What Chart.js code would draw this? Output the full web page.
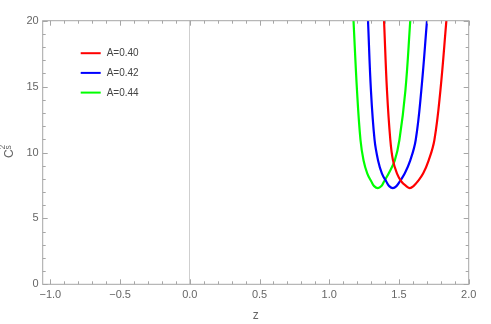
<!DOCTYPE html>
<html>
<head>
<meta charset="utf-8">
<script src="https://cdn.jsdelivr.net/npm/chart.js@4"></script>
<style>
  body { margin: 0; background: #fff; }
  canvas { display: block; }
</style>
</head>
<body>
<canvas id="chart" width="491" height="324"></canvas>
<script>
// values (z, C_s^2)
var cs2 = [20, 14.7, 10.95, 9.4, 8.4, 7.8, 7.45, 7.3, 7.45, 7.8, 8.4, 9.4, 10.95, 14.7, 20];
var zRed = [1.393, 1.414, 1.438, 1.457, 1.486, 1.517, 1.552, 1.578, 1.604, 1.634, 1.673, 1.713, 1.754, 1.797, 1.840];
var zBlue = [1.278, 1.299, 1.325, 1.350, 1.378, 1.409, 1.430, 1.456, 1.482, 1.505, 1.541, 1.581, 1.620, 1.660, 1.701];
var zGreen = [1.174, 1.199, 1.224, 1.246, 1.273, 1.302, 1.322, 1.348, 1.374, 1.393, 1.426, 1.470, 1.503, 1.546, 1.581];
var labels = ['A=0.40', 'A=0.42', 'A=0.44'];
var colors = ['#ff0000', '#0000ff', '#00ff00'];

var xMajor = [-1, -0.5, 0, 0.5, 1, 1.5, 2];
var yMajor = [0, 5, 10, 15, 20];
var xMinorStep = 0.1;
var yMinorStep = 1;

var fontFam = '"Liberation Sans", Arial, sans-serif';
var frameColor = '#a6a6a6';
var textColor = '#666';

function pts(xs, ys) {
	var out = [];
	for (var i = 0; i < xs.length; i++) out.push({ x: xs[i], y: ys[i] });
	return out;
}

// frame with inward ticks, legend and y title, like the mathematica plot
var framePlugin = {
	id: 'frame',
	afterDraw: function(chart) {
		var c = chart.ctx, a = chart.chartArea;
		var xs = chart.scales.x, ys = chart.scales.y;
		c.save();
		c.strokeStyle = frameColor;
		c.lineWidth = 1;
		c.strokeRect(a.left, a.top, a.right - a.left, a.bottom - a.top);

		c.beginPath();
		// x ticks (bottom + top)
		for (var k = -20; k <= 40; k++) {
			var v = k * xMinorStep;
			if (v < xs.min - 1e-9 || v > xs.max + 1e-9) continue;
			var major = xMajor.some(function(m) { return Math.abs(m - v) < 1e-9; });
			var len = major ? 5 : 3;
			var px = Math.round(xs.getPixelForValue(v)) + 0.5;
			c.moveTo(px, a.bottom); c.lineTo(px, a.bottom - len);
			c.moveTo(px, a.top); c.lineTo(px, a.top + len);
		}
		// y ticks (left + right)
		for (var j = 0; j <= 20; j++) {
			var w = j * yMinorStep;
			var majorY = yMajor.indexOf(w) >= 0;
			var lenY = majorY ? 5 : 3;
			var py = Math.round(ys.getPixelForValue(w)) + 0.5;
			c.moveTo(a.left, py); c.lineTo(a.left + lenY, py);
			c.moveTo(a.right, py); c.lineTo(a.right - lenY, py);
		}
		c.stroke();

		// legend
		c.font = '10px ' + fontFam;
		c.textBaseline = 'middle';
		c.textAlign = 'left';
		chart.data.datasets.forEach(function(ds, i) {
			var ly = a.top + 32.5 + i * 19.7;
			c.strokeStyle = ds.borderColor;
			c.lineWidth = 2;
			c.beginPath();
			c.moveTo(a.left + 38, ly); c.lineTo(a.left + 58, ly);
			c.stroke();
			c.fillStyle = '#444';
			c.fillText(ds.label, a.left + 64, ly + 0.5);
		});

		// y title C_s^2
		c.translate(13, 158);
		c.rotate(-Math.PI / 2);
		c.fillStyle = textColor;
		c.textBaseline = 'alphabetic';
		c.font = '12px ' + fontFam;
		c.fillText('C', 0, 0);
		c.font = '8.5px ' + fontFam;
		c.fillText('2', 8.5, -8);
		c.fillText('s', 8.5, -2);
		c.restore();
	}
};

var ctx = document.getElementById('chart');
var chart = new Chart(ctx, {
	type: 'scatter',
	data: {
		datasets: [
			{ label: labels[0], data: pts(zRed, cs2), borderColor: colors[0] },
			{ label: labels[1], data: pts(zBlue, cs2), borderColor: colors[1] },
			{ label: labels[2], data: pts(zGreen, cs2), borderColor: colors[2] }
		].map(function(d) {
			d.showLine = true;
			d.borderWidth = 2.2;
			d.pointRadius = 0;
			d.fill = false;
			d.tension = 0.4;
			return d;
		})
	},
	options: {
		responsive: false,
		animation: false,
		layout: { padding: { top: 20.7, right: 22.3, left: 0, bottom: 0 } },
		plugins: { legend: { display: false }, tooltip: { enabled: false } },
		scales: {
			x: {
				type: 'linear',
				min: -1.055,
				max: 2.0,
				afterFit: function(s) { s.height = 39.7; },
				border: { display: false },
				grid: {
					drawTicks: false,
					color: function(c) { return c.tick && c.tick.value === 0 ? '#cfcfcf' : 'rgba(0,0,0,0)'; },
					lineWidth: 1
				},
				ticks: {
					stepSize: 0.5,
					includeBounds: false,
					padding: 4,
					maxRotation: 0,
					color: textColor,
					font: { family: fontFam, size: 11 },
					callback: function(v) { return (v < 0 ? '\u2212' : '') + Math.abs(v).toFixed(1); }
				},
				title: {
					display: true,
					text: 'z',
					color: textColor,
					font: { family: fontFam, size: 12 },
					padding: { top: 0, bottom: 1 }
				}
			},
			y: {
				min: 0,
				max: 20,
				afterFit: function(s) { s.width = 42.7; },
				border: { display: false },
				grid: { display: false, drawTicks: false },
				ticks: {
					stepSize: 5,
					padding: 4,
					color: textColor,
					font: { family: fontFam, size: 11 }
				}
			}
		}
	},
	plugins: [framePlugin]
});
</script>
</body>
</html>
